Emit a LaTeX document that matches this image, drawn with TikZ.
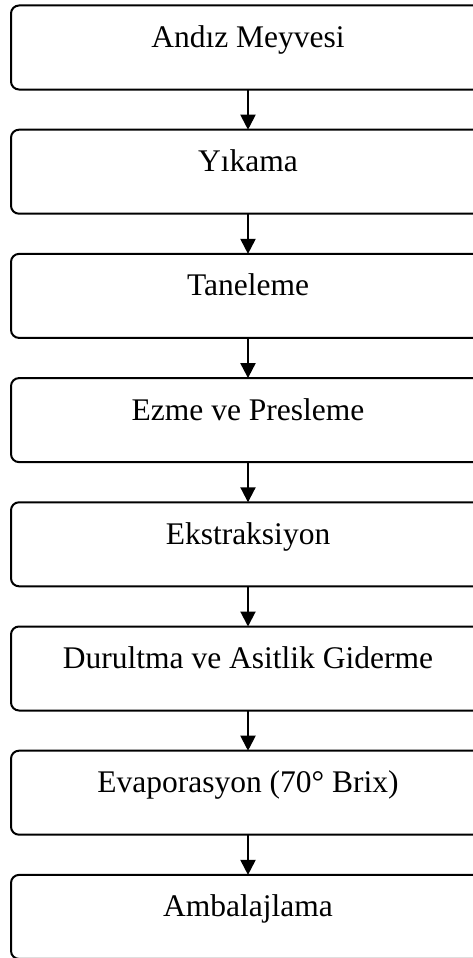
\documentclass[tikz,border=0pt]{standalone}
\usepackage{fontspec}
\setmainfont{Liberation Serif}
\usetikzlibrary{arrows.meta, positioning}
\tikzset{
  stepbox/.style={draw=black, line width=2pt, rounded corners=8pt, outer sep=0pt,
    inner sep=0pt, minimum width=474pt, text height=42pt, text depth=42pt,
    font=\fontsize{31.5}{36}\selectfont},
  flow/.style={-{Triangle[width=15pt,length=15pt]}, line width=2pt}
}
\begin{document}
\begin{tikzpicture}[x=1pt, y=1pt, node distance=40.2pt]
        \useasboundingbox (0,0) rectangle (473,-958);
        % Process steps
        \node[stepbox] (andiz) at (248,-47.5) {Andız Meyvesi};
        \node[stepbox, below=of andiz] (yikama) {Yıkama};
        \node[stepbox, below=of yikama] (taneleme) {Taneleme};
        \node[stepbox, below=of taneleme] (ezme) {Ezme ve Presleme};
        \node[stepbox, below=of ezme] (ekstraksiyon) {Ekstraksiyon};
        \node[stepbox, below=of ekstraksiyon] (durultma) {Durultma ve Asitlik Giderme};
        \node[stepbox, below=of durultma] (evaporasyon) {Evaporasyon (70° Brix)};
        \node[stepbox, below=of evaporasyon] (ambalaj) {Ambalajlama};
        % Arrows between steps
        \foreach \a/\b in {andiz/yikama, yikama/taneleme, taneleme/ezme,
            ezme/ekstraksiyon, ekstraksiyon/durultma, durultma/evaporasyon,
            evaporasyon/ambalaj}{
          \draw[flow] (\a.south) -- (\b.north);
        }
      \end{tikzpicture}
\end{document}
